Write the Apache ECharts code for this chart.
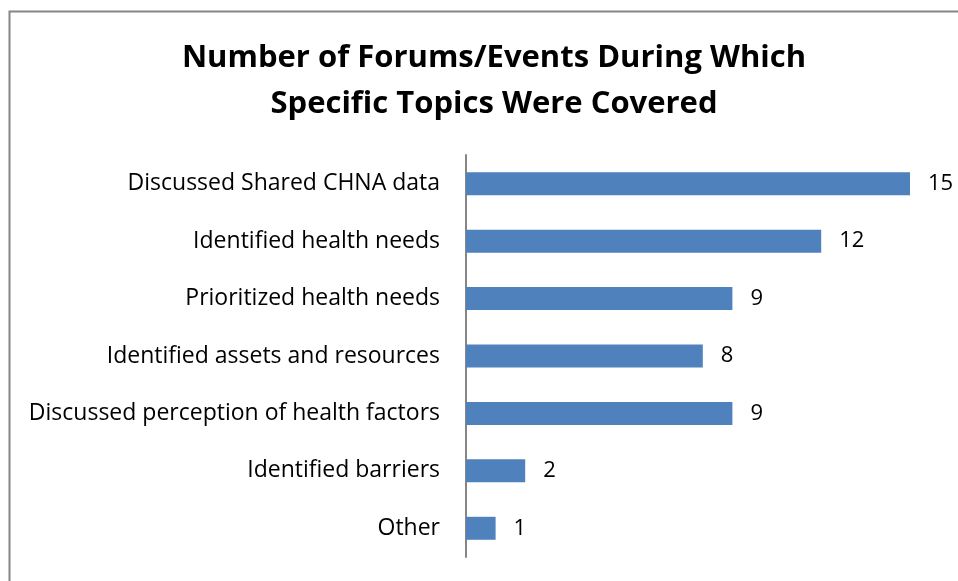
<!DOCTYPE html>
<html>
<head>
<meta charset="utf-8">
<script src="https://cdn.jsdelivr.net/npm/echarts@6/dist/echarts.min.js"></script>
<style>
  html, body { margin: 0; padding: 0; background: #fff; }
  #chart { width: 958px; height: 581px; }
</style>
</head>
<body>
<div id="chart"></div>
<script>
var topics = [
  'Discussed Shared CHNA data',
  'Identified health needs',
  'Prioritized health needs',
  'Identified assets and resources',
  'Discussed perception of health factors',
  'Identified barriers',
  'Other'
];
var counts = [15, 12, 9, 8, 9, 2, 1];

var chart = echarts.init(document.getElementById('chart'));
var fontFamily = '"Open Sans", Lato, sans-serif';

chart.setOption({
  animation: false,
  title: {
    text: 'Number of Forums/Events During Which\nSpecific Topics Were Covered',
    left: 489,
    top: 30,
    textAlign: 'center',
    textStyle: {
      fontFamily: fontFamily,
      fontWeight: 'bold',
      fontSize: 31,
      lineHeight: 46,
      color: '#000'
    }
  },
  graphic: [{
    type: 'rect',
    shape: { x: 9.5, y: 11.5, width: 1000, height: 1000 },
    style: { fill: 'none', stroke: '#868686', lineWidth: 2 }
  }],
  grid: {
    left: 466,
    right: 48,
    top: 155,
    bottom: 24,
    containLabel: false
  },
  xAxis: {
    type: 'value',
    min: 0,
    max: 15,
    show: false
  },
  yAxis: {
    type: 'category',
    inverse: true,
    data: topics,
    axisLine: { lineStyle: { color: '#868686', width: 2 } },
    axisTick: { show: false },
    axisLabel: {
      margin: 26,
      fontFamily: fontFamily,
      fontSize: 23,
      color: '#000'
    }
  },
  series: [{
    type: 'bar',
    data: counts,
    barWidth: '40%',
    itemStyle: { color: '#4F81BD' },
    label: {
      show: true,
      position: 'right',
      distance: 18,
      fontFamily: fontFamily,
      fontSize: 22,
      color: '#000'
    }
  }]
});
</script>
</body>
</html>
